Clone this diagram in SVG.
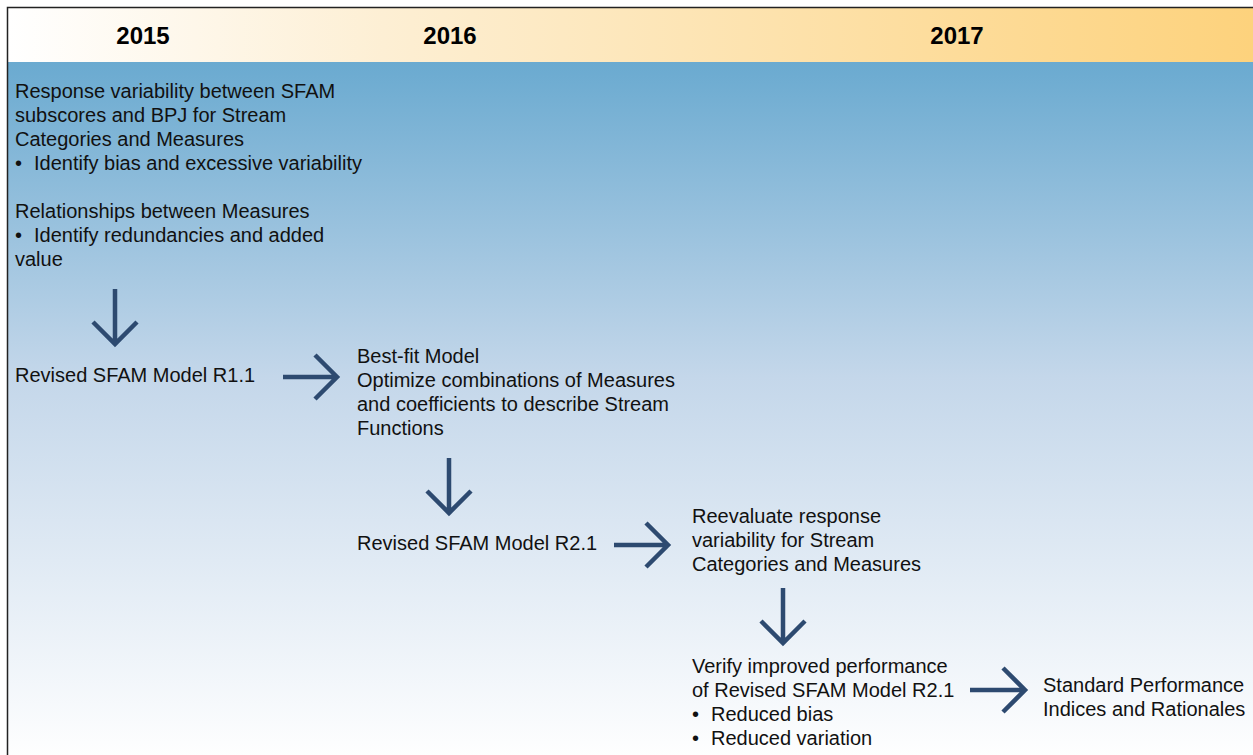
<svg xmlns="http://www.w3.org/2000/svg" width="1253" height="755" viewBox="0 0 1253 755">
<defs>
<linearGradient id="hdr" x1="0" y1="0" x2="1" y2="0">
<stop offset="0" stop-color="#ffffff"/>
<stop offset="0.3" stop-color="#fdefd4"/>
<stop offset="1" stop-color="#fdd27c"/>
</linearGradient>
<linearGradient id="body" x1="0" y1="0" x2="0" y2="1">
<stop offset="0" stop-color="#6aaad0"/>
<stop offset="0.45" stop-color="#c4d7ea"/>
<stop offset="1" stop-color="#ffffff"/>
</linearGradient>
<style>
text{font-family:"Liberation Sans",Arial,sans-serif;font-size:20px;fill:#111}
.yr{font-size:24px;font-weight:bold;text-anchor:middle;fill:#000}
.arr{fill:none;stroke:#2d4a70;stroke-width:4.5}
</style>
</defs>
<rect x="0" y="0" width="1253" height="755" fill="#ffffff"/>
<rect x="7.5" y="7.5" width="1250" height="55" fill="url(#hdr)"/>
<rect x="7.5" y="62" width="1250" height="700" fill="url(#body)"/>
<path d="M7.5 755 V7.5 H1253" fill="none" stroke="#222" stroke-width="1.5"/>
<g id="years">
<text class="yr" x="143" y="44">2015</text>
<text class="yr" x="450" y="44">2016</text>
<text class="yr" x="957" y="44">2017</text>
</g>
<g id="n1">
<text x="15" y="98">Response variability between SFAM</text>
<text x="15" y="122">subscores and BPJ for Stream</text>
<text x="15" y="146">Categories and Measures</text>
<text x="15" y="170">•<tspan x="34">Identify bias and excessive variability</tspan></text>
<text x="15" y="218">Relationships between Measures</text>
<text x="15" y="242">•<tspan x="34">Identify redundancies and added</tspan></text>
<text x="15" y="266">value</text>
</g>
<g id="n2"><text x="15" y="382">Revised SFAM Model R1.1</text></g>
<g id="n3">
<text x="357" y="363">Best-fit Model</text>
<text x="357" y="387">Optimize combinations of Measures</text>
<text x="357" y="411">and coefficients to describe Stream</text>
<text x="357" y="435">Functions</text>
</g>
<g id="n4"><text x="357" y="550">Revised SFAM Model R2.1</text></g>
<g id="n5">
<text x="692" y="523">Reevaluate response</text>
<text x="692" y="547">variability for Stream</text>
<text x="692" y="571">Categories and Measures</text>
</g>
<g id="n6">
<text x="692" y="673">Verify improved performance</text>
<text x="692" y="697">of Revised SFAM Model R2.1</text>
<text x="692" y="721">•<tspan x="711">Reduced bias</tspan></text>
<text x="692" y="745">•<tspan x="711">Reduced variation</tspan></text>
</g>
<g id="n7">
<text x="1043" y="692">Standard Performance</text>
<text x="1043" y="716">Indices and Rationales</text>
</g>
<g id="connectors">
<path class="arr" d="M115 289 V344 M93 322 L115 344 L137 322"/>
<path class="arr" d="M283 377 H337 M315 355 L337 377 L315 399"/>
<path class="arr" d="M449 458 V513 M427 491 L449 513 L471 491"/>
<path class="arr" d="M614 545 H668 M646 523 L668 545 L646 567"/>
<path class="arr" d="M783 588 V643 M761 621 L783 643 L805 621"/>
<path class="arr" d="M970 690 H1025 M1003 668 L1025 690 L1003 712"/>
</g>
</svg>
